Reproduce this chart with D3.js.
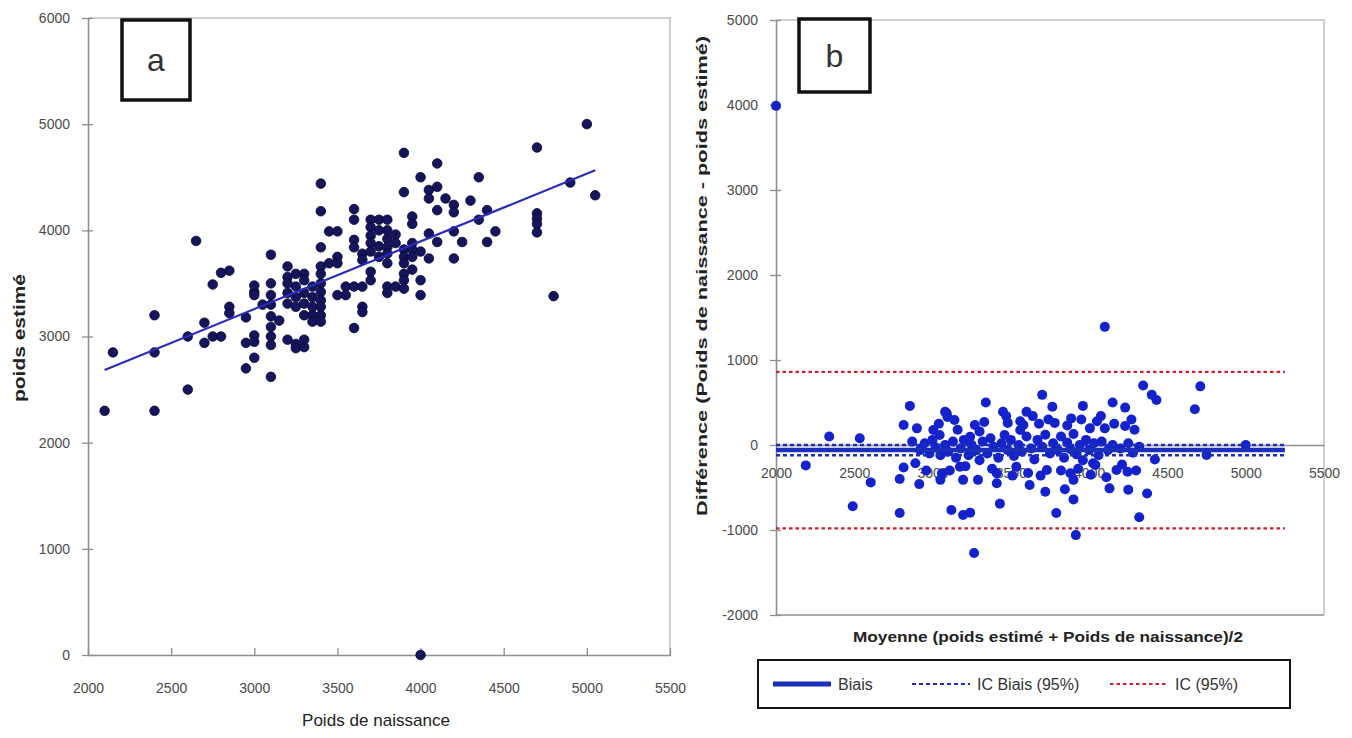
<!DOCTYPE html>
<html>
<head>
<meta charset="utf-8">
<script src="https://cdn.jsdelivr.net/npm/d3@7"></script>
<style>
  body { margin: 0; background: #fff; }
  text { font-family: "Liberation Sans", Arial, sans-serif; }
</style>
</head>
<body>
<div id="chart"></div>
<script>
// ---- data ----
// panel a : [poids de naissance, poids estimé]
const pointsA = [
  [2100,2300],[2150,2850],[2400,3200],[2400,2850],[2400,2300],[2600,3000],[2600,2500],[2650,3900],
  [2700,3130],[2700,2940],[2750,3000],[2800,3000],[2750,3490],[2800,3600],[2850,3620],[2850,3280],[2850,3220],
  [2950,3180],[2950,2940],[2950,2700],[3000,3010],[3000,2800],[3000,3420],[3000,3480],[3000,3390],[3000,2950],
  [3100,3770],[3100,3500],[3100,3390],[3100,3300],[3100,3190],[3100,3090],[3100,3000],[3100,2920],[3100,2620],
  [3050,3300],[3150,3150],
  [3200,3660],[3200,3560],[3200,3500],[3200,3410],[3200,3310],[3200,2970],
  [3250,3590],[3250,3470],[3250,3370],[3250,3280],[3250,2930],[3250,2890],
  [3300,3590],[3300,3530],[3300,3410],[3300,3310],[3300,3200],[3300,2900],[3300,2970],
  [3350,3470],[3350,3370],[3350,3280],[3350,3200],[3350,3140],
  [3400,4440],[3400,4180],[3400,3840],[3400,3660],[3400,3590],[3400,3500],[3400,3420],[3400,3340],[3400,3280],[3400,3200],[3400,3140],
  [3450,3990],[3450,3690],
  [3500,3990],[3500,3750],[3500,3690],[3500,3390],
  [3550,3470],[3550,3390],
  [3600,4200],[3600,4100],[3600,3910],[3600,3840],[3600,3470],[3600,3080],
  [3650,3780],[3650,3720],[3650,3470],[3650,3280],[3650,3230],
  [3700,4100],[3700,4030],[3700,3950],[3700,3880],[3700,3800],[3700,3610],[3700,3530],
  [3750,4100],[3750,4000],[3750,3850],[3750,3750],
  [3800,4100],[3800,4000],[3800,3920],[3800,3840],[3800,3780],[3800,3690],[3800,3470],[3800,3410],
  [3850,3960],[3850,3880],[3850,3470],
  [3900,4730],[3900,4360],[3900,3820],[3900,3750],[3900,3690],[3900,3590],[3900,3530],[3900,3450],
  [3950,4130],[3950,4060],[3950,3880],[3950,3820],[3950,3750],[3950,3630],
  [4000,4500],[4000,3800],[4000,3530],[4000,3390],[4000,0],
  [4050,4380],[4050,4300],[4050,3970],[4050,3735],
  [4100,4630],[4100,4410],[4100,4190],[4100,3890],
  [4150,4300],
  [4200,4240],[4200,4170],[4200,3990],[4200,3735],
  [4250,3890],[4300,4280],[4350,4500],[4350,4100],[4400,4190],[4400,3890],[4450,3990],
  [4700,4780],[4700,4160],[4700,4110],[4700,4060],[4700,3980],
  [4800,3380],[4900,4450],[5000,5000],[5050,4330]
];
// regression line end points (panel a)
const regLine = [[2100,2685],[5050,4565]];

// panel b : [moyenne, différence]
const pointsB = [
  [2000,3990],
  [2190,-240],[2340,100],[2535,80],[2490,-720],[2605,-440],
  [2790,-800],[2790,-400],[2815,-265],[2855,460],[2815,235],[2900,196],[2915,-460],[2890,-215],
  [3005,176],[3045,118],[3060,-333],[3050,-410],[3090,373],[3080,390],[3095,330],[3140,294],[3120,-765],
  [3175,-255],[3195,-410],[3195,-823],[3240,-796],
  [3240,98],[3270,235],[3300,160],[3265,-1270],[3290,-410],[3340,500],
  [3410,-333],[3410,-450],[3430,-690],[3450,392],[3470,340],[3460,118],
  [3535,-255],[3560,176],[3580,235],[3600,390],[3640,340],[3620,-470],
  [3700,590],[3730,-294],[3720,-550],[3740,300],[3765,450],[3790,-800],
  [3845,-520],[3880,-333],[3885,313],[3900,-410],[3900,-640],[3915,-1060],
  [3960,460],[4005,196],[4025,-215],[4040,-235],[4075,340],[4100,1390],[4100,196],[4130,-510],[4150,500],[4175,-294],
  [4230,440],[4230,224],[4245,-314],[4250,-525],[4290,180],[4320,-850],[4345,700],[4370,-570],[4400,590],[4430,530],[4420,-170],
  [4675,420],[4710,690],[4750,-118],[5000,0],
  [2870,40],[2920,-60],[2950,20],[2980,-100],[3000,60],[3020,-30],[3050,-120],[3080,0],[3100,-80],[3130,40],
  [3150,-150],[3180,-40],[3200,60],[3230,-120],[3250,0],[3280,-60],[3300,-180],[3320,40],[3350,-100],[3370,80],
  [3390,-20],[3420,-150],[3440,20],[3480,-60],[3500,60],[3520,-130],[3550,0],[3570,-80],[3600,100],[3630,-40],
  [3650,-170],[3670,60],[3700,-20],[3720,120],[3750,-100],[3770,20],[3800,-60],[3820,100],[3840,-150],[3860,30],
  [3880,-50],[3900,130],[3920,-110],[3940,0],[3960,-180],[3980,60],[4000,-60],[4030,20],[4060,-120],[4080,40],
  [4120,-60],[4150,0],[4200,-40],[4250,20],[4280,-90],[4320,-20],
  [2960,-300],[3040,250],[3110,-300],[3160,180],[3210,-250],[3330,270],[3380,-280],[3480,260],[3510,-360],[3560,280],
  [3610,-330],[3680,250],[3690,-360],[3780,260],[3820,-300],[3860,230],[3930,-280],[3950,300],[4010,-350],[4050,280],
  [4110,-380],[4160,250],[4210,-230],[4270,300],[4300,-300]
];
// Bland-Altman reference lines
const biais = -60;
const icBiais = [0, -120];
const ic95 = [860, -980];
const lineSpan = [2000, 5250];

// ticks
const ticksX = [2000, 2500, 3000, 3500, 4000, 4500, 5000, 5500];
const ticksYA = [0, 1000, 2000, 3000, 4000, 5000, 6000];
const ticksYB = [-2000, -1000, 0, 1000, 2000, 3000, 4000, 5000];
const legendLabels = ["Biais", "IC Biais (95%)", "IC (95%)"];

// ---- drawing ----
const W = 1352, H = 738;
const AXIS = "#8e8e8e", FRAME = "#cfcfcf", TICKTXT = "#4a4a4a";
const DOT_A = "#15155e", DOT_B = "#1422cc";
const BLUE_LINE = "#1b2fb8", RED_LINE = "#d02030";
const fmt = d => String(d);   // plain hyphen for negatives, as in the original

const svg = d3.select("#chart").append("svg")
  .attr("width", W).attr("height", H)
  .style("background", "#fff");

function styleAxis(g) {
  g.select(".domain").attr("stroke", AXIS).attr("stroke-width", 1.6);
  g.selectAll(".tick line").attr("stroke", AXIS).attr("stroke-width", 1.3);
  g.selectAll(".tick text").attr("fill", TICKTXT).style("font-size", "14px");
}

// ===== panel a =====
const xA = d3.scaleLinear().domain([2000, 5500]).range([88, 670]);
const yA = d3.scaleLinear().domain([0, 6000]).range([655, 18]);

svg.append("path")
   .attr("d", `M${xA(2000)},${yA(6000)}H${xA(5500)}V${yA(0)}`)
   .attr("fill", "none").attr("stroke", FRAME).attr("stroke-width", 2);

svg.append("g")
   .attr("transform", `translate(${xA(2000)},0)`)
   .call(d3.axisLeft(yA).tickValues(ticksYA).tickSize(6).tickPadding(12).tickSizeOuter(0).tickFormat(fmt))
   .call(styleAxis)
   .call(g => g.selectAll(".tick line").attr("x1", 5));

svg.append("g")
   .attr("transform", `translate(0,${yA(0)})`)
   .call(d3.axisBottom(xA).tickValues(ticksX).tickSize(6).tickPadding(22).tickSizeOuter(0).tickFormat(fmt))
   .call(styleAxis)
   .call(g => g.selectAll(".tick line").attr("y1", -7).attr("y2", 1));

svg.append("g").selectAll("circle")
   .data(pointsA)
   .join("circle")
   .attr("cx", d => xA(d[0]))
   .attr("cy", d => yA(d[1]))
   .attr("r", 4.8)
   .attr("fill", DOT_A)
   .attr("stroke", "#07072e")
   .attr("stroke-width", 0.8);

svg.append("path")
   .datum(regLine)
   .attr("d", d3.line().x(d => xA(d[0])).y(d => yA(d[1])))
   .attr("stroke", "#2b2bbb").attr("stroke-width", 2.2).attr("fill", "none");

svg.append("text")
   .attr("x", 376).attr("y", 726)
   .attr("text-anchor", "middle")
   .attr("fill", "#222").style("font-size", "17px")
   .attr("textLength", 148).attr("lengthAdjust", "spacingAndGlyphs")
   .text("Poids de naissance");

svg.append("text")
   .attr("transform", "translate(25,338) rotate(-90)")
   .attr("text-anchor", "middle")
   .attr("fill", "#222").style("font-size", "17px").style("font-weight", "bold")
   .attr("textLength", 128).attr("lengthAdjust", "spacingAndGlyphs")
   .text("poids estimé");

// ===== panel b =====
const xB = d3.scaleLinear().domain([2000, 5500]).range([776, 1324]);
const yB = d3.scaleLinear().domain([-2000, 5000]).range([615, 20]);

svg.append("path")
   .attr("d", `M${xB(2000)},${yB(5000)}H${xB(5500)}V${yB(-2000)}`)
   .attr("fill", "none").attr("stroke", FRAME).attr("stroke-width", 2);
svg.append("path")
   .attr("d", `M${xB(2000)},${yB(-2000)}H${xB(5500)}`)
   .attr("stroke", AXIS).attr("stroke-width", 1.6);

svg.append("g")
   .attr("transform", `translate(${xB(2000)},0)`)
   .call(d3.axisLeft(yB).tickValues(ticksYB).tickSize(6).tickPadding(12).tickSizeOuter(0).tickFormat(fmt))
   .call(styleAxis)
   .call(g => g.selectAll(".tick line").attr("x1", 5));

svg.append("g")
   .attr("transform", `translate(0,${yB(0)})`)
   .call(d3.axisBottom(xB).tickValues(ticksX).tickSize(0).tickPadding(23).tickSizeOuter(0).tickFormat(fmt))
   .call(styleAxis);

svg.append("g").selectAll("circle")
   .data(pointsB)
   .join("circle")
   .attr("cx", d => xB(d[0]))
   .attr("cy", d => yB(d[1]))
   .attr("r", 5)
   .attr("fill", DOT_B);

// reference lines
const refLines = [
  { v: biais,      color: BLUE_LINE, width: 4.5, dash: null },
  { v: icBiais[0], color: BLUE_LINE, width: 2.5, dash: "4,3" },
  { v: icBiais[1], color: BLUE_LINE, width: 2.5, dash: "4,3" },
  { v: ic95[0],    color: RED_LINE,  width: 2.2, dash: "3.5,3" },
  { v: ic95[1],    color: RED_LINE,  width: 2.2, dash: "3.5,3" }
];
svg.append("g").selectAll("line")
   .data(refLines)
   .join("line")
   .attr("x1", xB(lineSpan[0])).attr("x2", xB(lineSpan[1]))
   .attr("y1", d => yB(d.v)).attr("y2", d => yB(d.v))
   .attr("stroke", d => d.color)
   .attr("stroke-width", d => d.width)
   .attr("stroke-dasharray", d => d.dash);

svg.append("text")
   .attr("x", 1048).attr("y", 642)
   .attr("text-anchor", "middle")
   .attr("fill", "#222").style("font-size", "15px").style("font-weight", "bold")
   .attr("textLength", 390).attr("lengthAdjust", "spacingAndGlyphs")
   .text("Moyenne (poids estimé + Poids de naissance)/2");

svg.append("text")
   .attr("transform", "translate(707,276) rotate(-90)")
   .attr("text-anchor", "middle")
   .attr("fill", "#222").style("font-size", "15px").style("font-weight", "bold")
   .attr("textLength", 480).attr("lengthAdjust", "spacingAndGlyphs")
   .text("Différence (Poids de naissance - poids estimé)");

// ===== panel labels a / b =====
const panelBoxes = [
  { label: "a", x: 122, y: 20, w: 68, h: 80 },
  { label: "b", x: 799, y: 19, w: 71, h: 73 }
];
panelBoxes.forEach(b => {
  svg.append("rect")
     .attr("x", b.x).attr("y", b.y).attr("width", b.w).attr("height", b.h)
     .attr("fill", "#fff").attr("stroke", "#111").attr("stroke-width", 3.5);
  svg.append("text")
     .attr("x", b.x + b.w / 2).attr("y", b.y + b.h / 2 + 11)
     .attr("text-anchor", "middle")
     .attr("fill", "#333").style("font-size", "32px")
     .text(b.label);
});

// ===== legend =====
const legend = svg.append("g");
legend.append("rect")
   .attr("x", 758).attr("y", 660).attr("width", 532).attr("height", 48)
   .attr("fill", "#fff").attr("stroke", "#111").attr("stroke-width", 2);
const legendStyle = [
  { x: 773,  color: BLUE_LINE, width: 5,   dash: null },
  { x: 912,  color: BLUE_LINE, width: 2.2, dash: "4,3" },
  { x: 1110, color: RED_LINE,  width: 2,   dash: "3.5,3" }
];
legendLabels.forEach((lab, i) => {
  const s = legendStyle[i];
  legend.append("line")
     .attr("x1", s.x).attr("x2", s.x + 58)
     .attr("y1", 684).attr("y2", 684)
     .attr("stroke", s.color).attr("stroke-width", s.width)
     .attr("stroke-dasharray", s.dash);
  legend.append("text")
     .attr("x", s.x + 65).attr("y", 690)
     .attr("fill", "#333").style("font-size", "16px")
     .text(lab);
});
</script>
</body>
</html>
